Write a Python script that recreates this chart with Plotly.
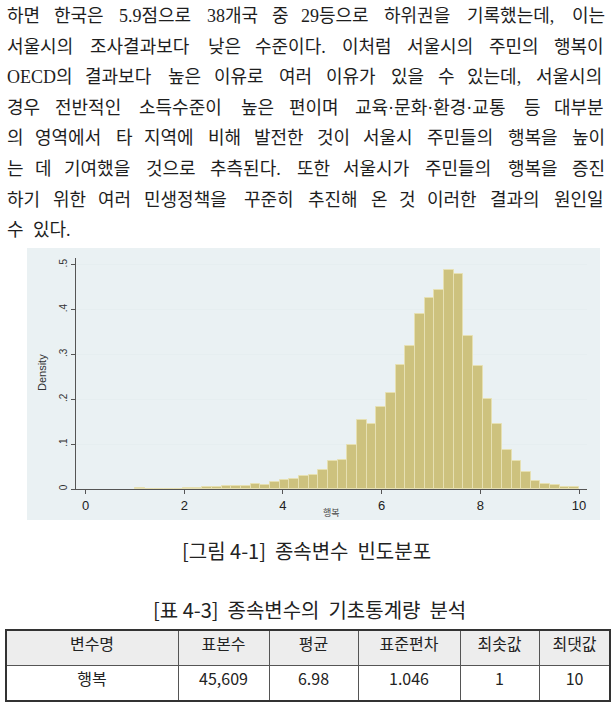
import plotly.graph_objects as go

W, H = 612, 712

# ---------------- data ----------------
bin_start = 1.0
bin_end = 10.0
density = [0.0020, 0.0005, 0.0005, 0.0010, 0.0010, 0.0015, 0.0020, 0.0040,
           0.0049, 0.0056, 0.0056, 0.0064, 0.0105, 0.0100, 0.0163, 0.0205,
           0.0231, 0.0279, 0.0320, 0.0431, 0.0632, 0.0655, 0.0973, 0.1530,
           0.1440, 0.1822, 0.2135, 0.2766, 0.3190, 0.3902, 0.4266, 0.4429,
           0.4882, 0.4793, 0.3412, 0.2744, 0.2009, 0.1445, 0.0873, 0.0635,
           0.0368, 0.0183, 0.0116, 0.0094, 0.0042, 0.0042]
x_ticks = [0, 2, 4, 6, 8, 10]
y_ticks = [0, 0.1, 0.2, 0.3, 0.4, 0.5]
y_tick_text = ["0", ".1", ".2", ".3", ".4", ".5"]

paragraph = [
    "하면 한국은 5.9점으로 38개국 중 29등으로 하위권을 기록했는데, 이는",
    "서울시의 조사결과보다 낮은 수준이다. 이처럼 서울시의 주민의 행복이",
    "OECD의 결과보다 높은 이유로 여러 이유가 있을 수 있는데, 서울시의",
    "경우 전반적인 소득수준이 높은 편이며 교육·문화·환경·교통 등 대부분",
    "의 영역에서 타 지역에 비해 발전한 것이 서울시 주민들의 행복을 높이",
    "는 데 기여했을 것으로 추측된다. 또한 서울시가 주민들의 행복을 증진",
    "하기 위한 여러 민생정책을 꾸준히 추진해 온 것 이러한 결과의 원인일",
    "수 있다.",
]
figure_caption = "[그림 4-1]  종속변수  빈도분포"
table_caption = "[표 4-3]  종속변수의  기초통계량  분석"
table_header = ["변수명", "표본수", "평균", "표준편차", "최솟값", "최댓값"]
table_row = ["행복", "45,609", "6.98", "1.046", "1", "10"]

# ---------------- helpers ----------------
def px(x):
    return x / W

def py(y):
    return 1 - y / H

n_bins = len(density)
bin_w = (bin_end - bin_start) / n_bins
centers = [bin_start + bin_w * (i + 0.5) for i in range(n_bins)]

SERIF = "Liberation Serif, Noto Sans CJK KR"
SANS_KR = "Noto Sans CJK KR"
STATA = "Liberation Sans, Arial, sans-serif"

fig = go.Figure()
fig.add_trace(go.Bar(
    x=centers, y=density, width=bin_w,
    marker=dict(color="#CDC27E", line=dict(color="#E6E0B2", width=1)),
    hoverinfo="skip", showlegend=False,
))

annotations = []
shapes = []

# graph region background
shapes.append(dict(type="rect", xref="paper", yref="paper",
                   x0=px(27), x1=px(600), y0=py(520), y1=py(248),
                   fillcolor="#EAF1F3", line=dict(width=0), layer="below"))

# ---------------- paragraph (justified) ----------------
FS = 18
widths_latin = {"O": 0.722, "E": 0.611, "C": 0.667, "D": 0.722}

def em_width(s):
    w = 0.0
    for ch in s:
        if "\uac00" <= ch <= "\ud7a3":
            w += 1.0
        elif ch.isdigit():
            w += 0.5
        elif ch in ".,·":
            w += 0.25
        elif ch in widths_latin:
            w += widths_latin[ch]
        else:
            w += 0.6
    return w

x_left, x_right = 6, 607
y0_line, dy_line = 16, 30.6
for i, line in enumerate(paragraph):
    yc = y0_line + i * dy_line
    words = line.split(" ")
    ws = [em_width(w) * FS for w in words]
    if i == len(paragraph) - 1:
        gap = 0.45 * FS
    else:
        gap = (x_right - x_left - sum(ws)) / (len(words) - 1)
    x = x_left
    for w, wpx in zip(words, ws):
        annotations.append(dict(
            text=w, x=px(x - 1), y=py(yc), xref="paper", yref="paper",
            xanchor="left", yanchor="middle", showarrow=False,
            font=dict(family=SERIF, size=FS, color="#1e1e1e")))
        x += wpx + gap

def label(text, x, y, size, family, color="#222222", angle=0):
    annotations.append(dict(text=text, x=px(x), y=py(y), xref="paper", yref="paper",
                            xanchor="center", yanchor="middle", textangle=angle,
                            showarrow=False,
                            font=dict(family=family, size=size, color=color)))

# ---------------- axis labels ----------------
label("Density", 42, 373, 11, STATA, "#333333", -90)
label("행복", 331, 512, 9, SANS_KR, "#444444")

# ---------------- captions ----------------
label(figure_caption, 306, 550, 20, SANS_KR)
label(table_caption, 309, 609, 20, SANS_KR)

# ---------------- table ----------------
col_px = [6, 178, 269, 358, 460, 539, 610]
col_w = [col_px[i + 1] - col_px[i] for i in range(len(col_px) - 1)]
fig.add_trace(go.Table(
    domain=dict(x=[px(6), px(610)], y=[py(701), py(630)]),
    columnwidth=col_w,
    header=dict(values=table_header, fill_color="#EDEDED", height=35,
                line=dict(color="#555555", width=1), align="center",
                font=dict(family=SANS_KR, size=16, color="#222222")),
    cells=dict(values=[[v] for v in table_row], fill_color="white", height=36,
               line=dict(color="#555555", width=1), align="center",
               font=dict(family=SANS_KR, size=16, color="#222222")),
))
shapes.append(dict(type="rect", xref="paper", yref="paper",
                   x0=px(6), x1=px(610), y0=py(701), y1=py(630),
                   line=dict(color="#333333", width=2), layer="above"))

fig.update_layout(
    width=W, height=H,
    margin=dict(l=0, r=0, t=0, b=0, autoexpand=False),
    paper_bgcolor="white", plot_bgcolor="white",
    bargap=0, showlegend=False,
    annotations=annotations, shapes=shapes,
    xaxis=dict(domain=[px(76), px(587)], range=[-0.193, 10.16],
               tickvals=x_ticks, ticks="outside", ticklen=4, tickcolor="#555555",
               showline=True, linecolor="#555555", linewidth=1,
               showgrid=False, zeroline=False,
               tickfont=dict(family=STATA, size=13, color="#222222")),
    yaxis=dict(domain=[py(489), py(258)], range=[0, 0.515],
               tickvals=y_ticks, ticktext=y_tick_text, tickangle=-90,
               ticks="outside", ticklen=4, tickcolor="#555555",
               showline=True, linecolor="#555555", linewidth=1,
               showgrid=True, gridcolor="#E6EEF0", gridwidth=1, zeroline=False,
               tickfont=dict(family=STATA, size=10, color="#333333")),
)

fig.write_html("out.html", config={"displayModeBar": False})
